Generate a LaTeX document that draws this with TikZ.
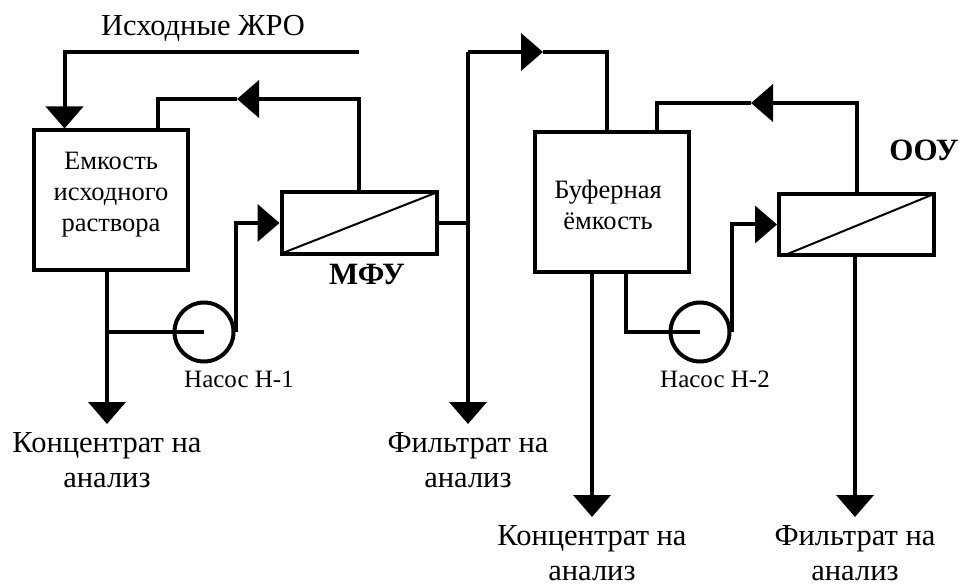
\documentclass[tikz,border=0pt]{standalone}
\usepackage{fontspec}
\setmainfont{Liberation Serif}
\usetikzlibrary{arrows.meta, positioning, calc}

\begin{document}
\begin{tikzpicture}[
    x=1pt, y=-1pt,
    pipe/.style={line width=4pt},
    flow/.style={pipe, -{Triangle[length=22pt, width=37pt]}},
    tankbox/.style={draw, line width=4pt, minimum width=154pt, minimum height=139pt, inner sep=0pt},
    filterbox/.style={draw, line width=4pt, minimum width=155pt, minimum height=61pt, inner sep=0pt},
    pumpnode/.style={circle, draw, line width=4pt, minimum size=59pt, inner sep=0pt},
    tanktext/.style={font=\fontsize{26.5}{31}\selectfont, align=center, inner sep=0pt},
    pumptext/.style={font=\fontsize{25}{30}\selectfont, inner sep=0pt},
    flowtext/.style={font=\fontsize{30.5}{35}\selectfont, align=center, inner sep=0pt},
    unittext/.style={font=\fontsize{31}{36}\selectfont\bfseries, inner sep=0pt},
]
\useasboundingbox (0,0) rectangle (960,585);

% Аппараты
\node[tankbox] (tank1) at (111,200) {};
\node[tankbox] (tank2) at (612,202) {};
\node[filterbox] (mfu) at (359,223) {};
\node[filterbox] (oou) at (856.5,224.5) {};
\node[pumpnode] (pump1) at (204,332) {};
\node[pumpnode] (pump2) at (700,332) {};

% Подписи аппаратов
\node[tanktext] (tank1text) at (111,195) {Емкость\\исходного\\раствора};
\node[tanktext] (tank2text) at (608,205) {Буферная\\ёмкость};
\node[unittext] (mfutext) at (367,275) {МФУ};
\node[unittext] (ooutext) at (924,150) {ООУ};
\node[pumptext] (pump1text) at (239,379) {Насос Н-1};
\node[pumptext] (pump2text) at (715,379) {Насос Н-2};
\node[flowtext] (feedtext) at (203,28) {Исходные ЖРО};

% Концы и изломы линий
\coordinate (feedend) at (359,52);
\coordinate (feedcorner) at (64.5,52);
\coordinate (back1corner) at (158,99);
\coordinate (back1tip) at (237,99);
\coordinate (back2corner) at (657,103);
\coordinate (back2tip) at (751,103);
\coordinate (filtcorner) at (468,52);
\coordinate (filttip) at (543,52);
\coordinate (buffcorner) at (607,52);
\coordinate (drain1) at (107,424);
\coordinate (drain2) at (468,424);
\coordinate (drain3) at (592,517);
\coordinate (drain4) at (855,517);
\coordinate (suction2) at (626,332);

% Мембраны
\draw[line width=2pt] ($(mfu.south west)+(2,-2)$) -- ($(mfu.north east)+(-2,2)$);
\draw[line width=2pt] ($(oou.south west)+(8,-2)$) -- ($(oou.north east)+(-2,2)$);

% Первая ступень
\draw[flow] (feedend) -- (feedcorner) -- (feedcorner |- tank1.north);
\draw[flow] (mfu.north) |- (back1tip);
\draw[pipe] (back1tip) -- (back1corner) -- (back1corner |- tank1.north);
\draw[flow] (pump1.east) |- (mfu.west);
\draw[flow] (tank1.south -| drain1) -- (drain1);
\draw[pipe] (pump1.center) -- (pump1.center -| drain1);

% Фильтрат первой ступени
\draw[flow] (drain2 |- filtcorner) -- (filttip);
\draw[pipe] (filttip) -- (buffcorner) -- (buffcorner |- tank2.north);
\draw[flow] (filtcorner) -- (drain2);
\draw[pipe] (mfu.east) -- (mfu.east -| filtcorner);

% Вторая ступень
\draw[flow] (oou.north) |- (back2tip);
\draw[pipe] (back2tip) -- (back2corner) -- (back2corner |- tank2.north);
\draw[flow] (pump2.east) |- (oou.west);
\draw[pipe] (tank2.south -| suction2) -- (suction2) -- (pump2.center);
\draw[flow] (tank2.south -| drain3) -- (drain3);
\draw[flow] (oou.south -| drain4) -- (drain4);

\foreach \n/\txt [count=\i] in {%
    drain1/{Концентрат на\\анализ},
    drain2/{Фильтрат на\\анализ},
    drain3/{Концентрат на\\анализ},
    drain4/{Фильтрат на\\анализ}%
}{
    \node[flowtext, below=8pt of \n] (flowtext\i) {\txt};
}

\end{tikzpicture}
\end{document}
